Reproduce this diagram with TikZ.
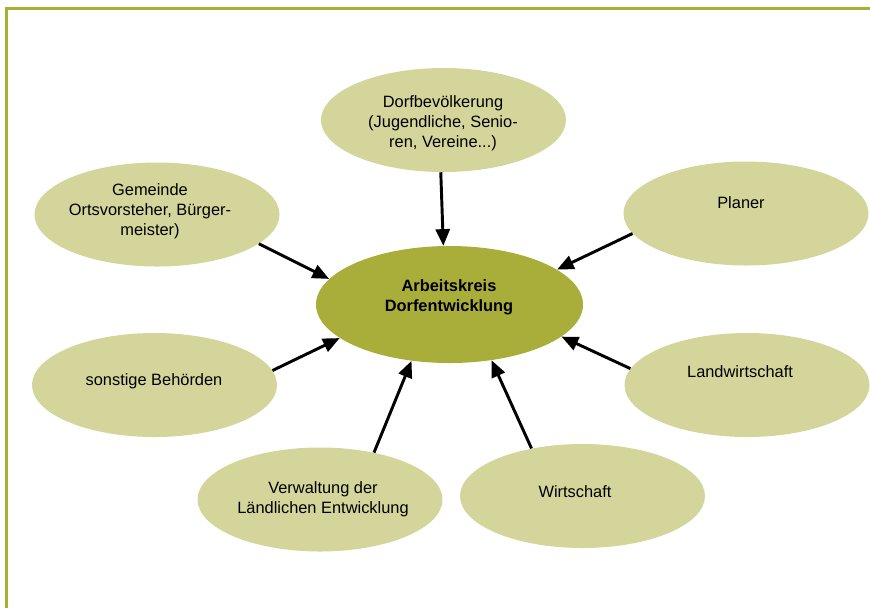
\documentclass[tikz,border=0pt]{standalone}
\usepackage{fontspec}
\setmainfont{Liberation Sans}
\usetikzlibrary{shapes.geometric,arrows.meta}
\definecolor{framegreen}{HTML}{A9AF31}
\definecolor{hubfill}{HTML}{A9AE3A}
\definecolor{leaffill}{HTML}{D4D59B}
\begin{document}
\begin{tikzpicture}[x=0.75pt,y=-0.75pt,
  leaf/.style={ellipse, fill=leaffill, draw=none, inner sep=0pt,
    minimum width=183.75pt, minimum height=78pt},
  hub/.style={ellipse, fill=hubfill, draw=none, inner sep=0pt,
    minimum width=200.25pt, minimum height=87.75pt},
  lbl/.style={align=center, inner sep=0pt, text=black,
    font=\fontsize{12.3}{15}\selectfont},
  arr/.style={draw=black, line width=2.2pt,
    -{Triangle[length=12.5pt,width=10.5pt]}}]
\useasboundingbox (0,0) rectangle (870,608);

% page frame (top and left edges)
\draw[framegreen, line width=2.4pt, line join=miter]
  (6.5,608) -- (6.5,8.5) -- (870,8.5);

% central node
\node[hub] (hub) at (449.5,304.5) {};
\node[lbl, font=\fontsize{12.3}{15}\selectfont\bfseries] (hubT) at (449,297)
  {Arbeitskreis\\Dorfentwicklung};

% surrounding groups
\node[leaf] (dorf) at (443.5,120) {};
\node[lbl] (dorfT) at (443,123) {Dorfbevölkerung\\(Jugendliche, Senio-\\ren, Vereine...)};

\node[leaf] (gem) at (157,214.5) {};
\node[lbl] (gemT) at (150,211) {Gemeinde\\Ortsvorsteher, Bürger-\\meister)};

\node[leaf] (plan) at (746,213.5) {};
\node[lbl] (planT) at (741,203) {Planer};

\node[leaf] (beh) at (154.5,385) {};
\node[lbl] (behT) at (154,381) {sonstige Behörden};

\node[leaf] (land) at (747,385) {};
\node[lbl] (landT) at (740,372) {Landwirtschaft};

\node[leaf] (verw) at (320,499.5) {};
\node[lbl] (verwT) at (323,499) {Verwaltung der\\Ländlichen Entwicklung};

\node[leaf] (wirt) at (582.5,496) {};
\node[lbl] (wirtT) at (575,492) {Wirtschaft};

% connectors into the central node
\draw[arr] (dorf.267.3) -- (hub.96.3);
\draw[arr] (gem.-16.2) -- (hub.168.2);
\draw[arr] (plan.190.1) -- (hub.18.75);
\draw[arr] (beh.7.4) -- (hub.197.2);
\draw[arr] (land.172.8) -- (hub.-16.4);
\draw[arr] (verw.41.4) -- (hub.236);
\draw[arr] (wirt.137.6) -- (hub.-53.4);
\end{tikzpicture}
\end{document}
